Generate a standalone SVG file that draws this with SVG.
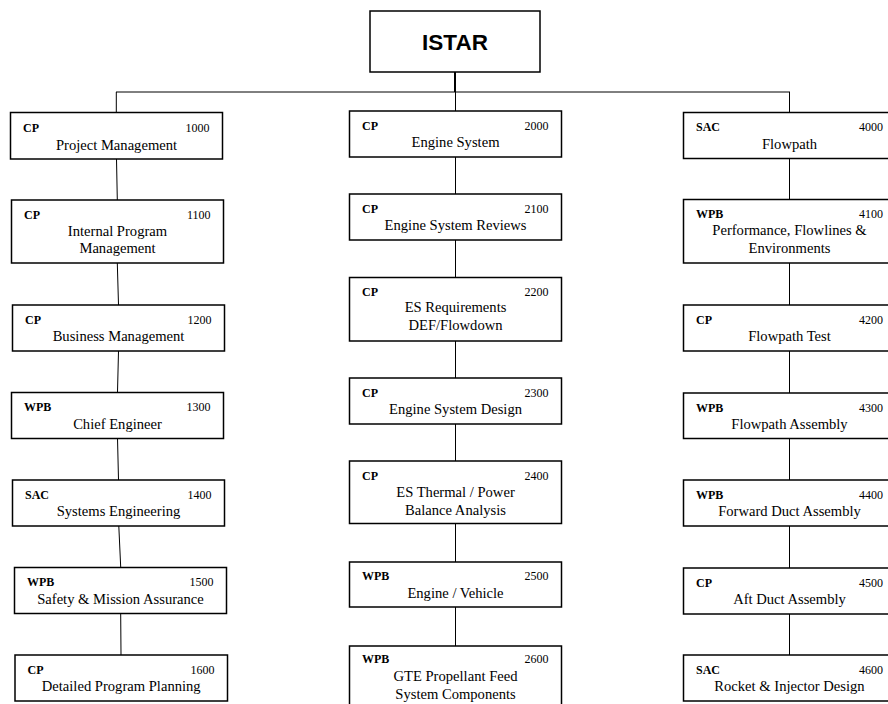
<svg xmlns="http://www.w3.org/2000/svg" width="888" height="704" viewBox="0 0 888 704">
<style>
  .box { fill: #fff; stroke: #000; stroke-width: 1.5; }
  .root { fill: #fff; stroke: #000; stroke-width: 1.5; }
  .conn line { stroke: #000; stroke-width: 1; }
  .code { font-family: "Liberation Serif", "Times New Roman", serif; font-size: 12px; font-weight: bold; }
  .num { font-family: "Liberation Serif", "Times New Roman", serif; font-size: 12px; text-anchor: end; }
  .lbl { font-family: "Liberation Serif", "Times New Roman", serif; font-size: 14.6px; text-anchor: middle; }
  .title { font-family: "Liberation Sans", Arial, sans-serif; font-size: 22.5px; font-weight: bold; text-anchor: middle; }
</style>
<rect width="888" height="704" fill="#fff"/>
<g id="connectors" class="conn">
  <line x1="455" y1="72" x2="455" y2="92" style="stroke-width:2"/>
  <line x1="116" y1="92" x2="790" y2="92"/>
  <line x1="116.3" y1="92" x2="116.3" y2="112"/>
  <line x1="455.5" y1="92" x2="455.5" y2="111"/>
  <line x1="789.5" y1="92" x2="789.5" y2="112"/>
  <!-- left column -->
  <line x1="116.5" y1="159" x2="117.3" y2="200"/>
  <line x1="117.3" y1="263" x2="118.5" y2="305"/>
  <line x1="118.5" y1="351" x2="117.5" y2="392"/>
  <line x1="117.5" y1="438" x2="118.5" y2="480"/>
  <line x1="118.8" y1="526" x2="120.7" y2="567"/>
  <line x1="120.7" y1="614" x2="121" y2="655"/>
  <!-- center column -->
  <line x1="455.5" y1="157" x2="455.5" y2="194"/>
  <line x1="455.5" y1="240" x2="455.5" y2="277"/>
  <line x1="455.5" y1="341" x2="455.5" y2="378"/>
  <line x1="455.5" y1="424" x2="455.5" y2="461"/>
  <line x1="455.5" y1="523" x2="455.5" y2="562"/>
  <line x1="455.5" y1="607" x2="455.5" y2="646"/>
  <!-- right column -->
  <line x1="789.5" y1="158" x2="789.5" y2="199"/>
  <line x1="789.5" y1="263" x2="789.5" y2="305"/>
  <line x1="789.5" y1="351" x2="789.5" y2="393"/>
  <line x1="789.5" y1="438" x2="789.5" y2="480"/>
  <line x1="789.5" y1="526" x2="789.5" y2="568"/>
  <line x1="789.5" y1="614" x2="789.5" y2="655"/>
</g>

<g id="istar">
  <rect class="root" x="370" y="11" width="170" height="61"/>
  <text class="title" x="455" y="49.5">ISTAR</text>
</g>

<!-- Left column -->
<g id="n1000">
  <rect class="box" x="10.5" y="112.5" width="212" height="46.5"/>
  <text class="code" x="23" y="131.5">CP</text>
  <text class="num" x="209.5" y="131.5">1000</text>
  <text class="lbl" x="116.5" y="149.5">Project Management</text>
</g>
<g id="n1100">
  <rect class="box" x="11.5" y="200" width="212" height="63"/>
  <text class="code" x="24" y="218.5">CP</text>
  <text class="num" x="210.5" y="218.5">1100</text>
  <text class="lbl" x="117.5" y="236">Internal Program</text>
  <text class="lbl" x="117.5" y="253.3">Management</text>
</g>
<g id="n1200">
  <rect class="box" x="12.5" y="305" width="212" height="46"/>
  <text class="code" x="25" y="323.5">CP</text>
  <text class="num" x="211.5" y="323.5">1200</text>
  <text class="lbl" x="118.5" y="341">Business Management</text>
</g>
<g id="n1300">
  <rect class="box" x="11.5" y="392.5" width="212" height="46"/>
  <text class="code" x="24" y="411">WPB</text>
  <text class="num" x="210.5" y="411">1300</text>
  <text class="lbl" x="117.5" y="428.5">Chief Engineer</text>
</g>
<g id="n1400">
  <rect class="box" x="12.5" y="480" width="212" height="46"/>
  <text class="code" x="25" y="498.5">SAC</text>
  <text class="num" x="211.5" y="498.5">1400</text>
  <text class="lbl" x="118.5" y="516">Systems Engineering</text>
</g>
<g id="n1500">
  <rect class="box" x="14.5" y="567.5" width="212" height="46"/>
  <text class="code" x="27" y="586">WPB</text>
  <text class="num" x="213.5" y="586">1500</text>
  <text class="lbl" x="120.5" y="603.5">Safety &amp; Mission Assurance</text>
</g>
<g id="n1600">
  <rect class="box" x="15" y="655" width="212.5" height="46"/>
  <text class="code" x="27.5" y="673.5">CP</text>
  <text class="num" x="214.5" y="673.5">1600</text>
  <text class="lbl" x="121.2" y="691">Detailed Program Planning</text>
</g>

<!-- Center column -->
<g id="n2000">
  <rect class="box" x="349.5" y="111" width="212" height="46"/>
  <text class="code" x="362" y="129.5">CP</text>
  <text class="num" x="548.5" y="129.5">2000</text>
  <text class="lbl" x="455.5" y="147">Engine System</text>
</g>
<g id="n2100">
  <rect class="box" x="349.5" y="194" width="212" height="46"/>
  <text class="code" x="362" y="212.7">CP</text>
  <text class="num" x="548.5" y="212.7">2100</text>
  <text class="lbl" x="455.5" y="230">Engine System Reviews</text>
</g>
<g id="n2200">
  <rect class="box" x="349.5" y="277.5" width="212" height="63.5"/>
  <text class="code" x="362" y="296">CP</text>
  <text class="num" x="548.5" y="296">2200</text>
  <text class="lbl" x="455.5" y="311.5">ES Requirements</text>
  <text class="lbl" x="455.5" y="329.5">DEF/Flowdown</text>
</g>
<g id="n2300">
  <rect class="box" x="349.5" y="378" width="212" height="46"/>
  <text class="code" x="362" y="396.5">CP</text>
  <text class="num" x="548.5" y="396.5">2300</text>
  <text class="lbl" x="455.5" y="414">Engine System Design</text>
</g>
<g id="n2400">
  <rect class="box" x="349.5" y="461" width="212" height="62.5"/>
  <text class="code" x="362" y="479.5">CP</text>
  <text class="num" x="548.5" y="479.5">2400</text>
  <text class="lbl" x="455.5" y="496.5">ES Thermal / Power</text>
  <text class="lbl" x="455.5" y="514.5">Balance Analysis</text>
</g>
<g id="n2500">
  <rect class="box" x="349.5" y="562" width="212" height="45"/>
  <text class="code" x="362" y="580">WPB</text>
  <text class="num" x="548.5" y="580">2500</text>
  <text class="lbl" x="455.5" y="597.5">Engine / Vehicle</text>
</g>
<g id="n2600">
  <rect class="box" x="349.5" y="646" width="212" height="64"/>
  <text class="code" x="362" y="663">WPB</text>
  <text class="num" x="548.5" y="663">2600</text>
  <text class="lbl" x="455.5" y="681">GTE Propellant Feed</text>
  <text class="lbl" x="455.5" y="699">System Components</text>
</g>

<!-- Right column -->
<g id="n4000">
  <rect class="box" x="683.5" y="112.5" width="212" height="46"/>
  <text class="code" x="696" y="131">SAC</text>
  <text class="num" x="883" y="131">4000</text>
  <text class="lbl" x="789.5" y="148.5">Flowpath</text>
</g>
<g id="n4100">
  <rect class="box" x="683.5" y="199.5" width="212" height="63.5"/>
  <text class="code" x="696" y="217.5">WPB</text>
  <text class="num" x="883" y="217.5">4100</text>
  <text class="lbl" x="789.5" y="235">Performance, Flowlines &amp;</text>
  <text class="lbl" x="789.5" y="253.3">Environments</text>
</g>
<g id="n4200">
  <rect class="box" x="683.5" y="305" width="212" height="46"/>
  <text class="code" x="696" y="323.5">CP</text>
  <text class="num" x="883" y="323.5">4200</text>
  <text class="lbl" x="789.5" y="341">Flowpath Test</text>
</g>
<g id="n4300">
  <rect class="box" x="683.5" y="393" width="212" height="45.5"/>
  <text class="code" x="696" y="411.5">WPB</text>
  <text class="num" x="883" y="411.5">4300</text>
  <text class="lbl" x="789.5" y="429">Flowpath Assembly</text>
</g>
<g id="n4400">
  <rect class="box" x="683.5" y="480" width="212" height="46"/>
  <text class="code" x="696" y="498.5">WPB</text>
  <text class="num" x="883" y="498.5">4400</text>
  <text class="lbl" x="789.5" y="516">Forward Duct Assembly</text>
</g>
<g id="n4500">
  <rect class="box" x="683.5" y="568" width="212" height="46"/>
  <text class="code" x="696" y="586.5">CP</text>
  <text class="num" x="883" y="586.5">4500</text>
  <text class="lbl" x="789.5" y="604">Aft Duct Assembly</text>
</g>
<g id="n4600">
  <rect class="box" x="683.5" y="655" width="212" height="46"/>
  <text class="code" x="696" y="673.5">SAC</text>
  <text class="num" x="883" y="673.5">4600</text>
  <text class="lbl" x="789.5" y="691">Rocket &amp; Injector Design</text>
</g>
</svg>
